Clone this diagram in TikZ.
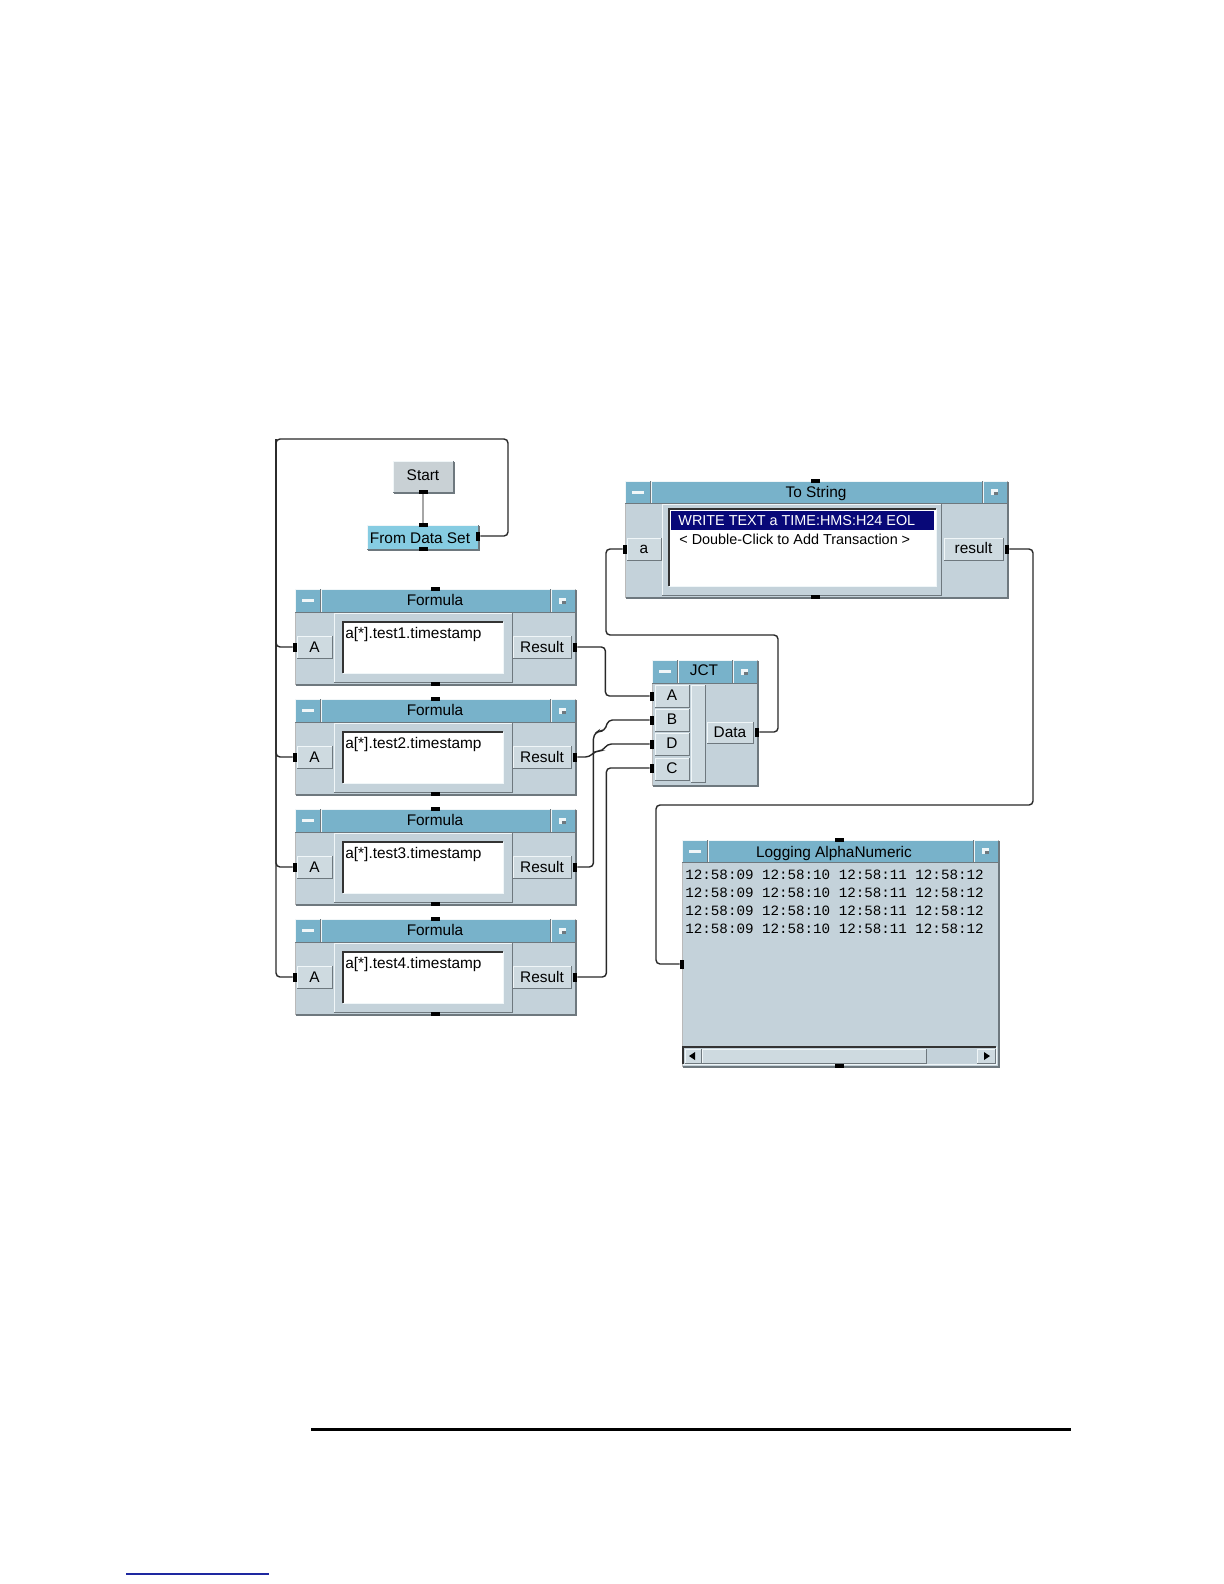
\documentclass[tikz,border=0pt]{standalone}
\usepackage{fontspec}
\setmainfont{Liberation Sans}
\setmonofont{Liberation Mono}
\definecolor{panel}{RGB}{196,210,218}
\definecolor{titlec}{RGB}{120,178,202}
\definecolor{btnc}{RGB}{206,218,224}
\definecolor{fdsc}{RGB}{134,204,226}
\definecolor{startc}{RGB}{201,209,213}
\definecolor{hlc}{RGB}{240,246,248}
\definecolor{shc}{RGB}{110,120,126}
\definecolor{wirec}{RGB}{40,40,40}
\definecolor{selc}{RGB}{8,8,120}
\definecolor{linkc}{RGB}{30,40,160}
\tikzset{
 wire/.style={draw=wirec, line width=0.7pt, rounded corners=2pt},
 pinv/.style={fill=black, inner sep=0pt, minimum width=4.5pt, minimum height=2pt, draw=none},
 pinh/.style={fill=black, inner sep=0pt, minimum width=2pt, minimum height=4.5pt, draw=none},
 lbl/.style={inner sep=0pt, anchor=base, font=\fontsize{7.7}{9}\selectfont, text=black},
 small/.style={inner sep=0pt, anchor=base west, font=\fontsize{7.2}{9}\selectfont, text=black},
 mono/.style={inner sep=0pt, anchor=base west, font=\ttfamily\fontsize{7.1}{8}\selectfont, text=black},
 hl/.style={draw=hlc, line width=0.5pt},
 sh/.style={draw=shc, line width=0.5pt},
}
\newcommand\raisedbx[5]{%
 \fill[#5] (#1,#2) rectangle (#3,#4);
 \draw[hl] (#1,#4) -- (#1,#2) -- (#3,#2);
 \draw[sh] (#3,#2) -- (#3,#4) -- (#1,#4);}
\newcommand\sunkbx[5]{%
 \fill[#5] (#1,#2) rectangle (#3,#4);
 \draw[draw=black!80, line width=0.7pt] (#1,#4) -- (#1,#2) -- (#3,#2);
 \draw[hl] (#3,#2) -- (#3,#4) -- (#1,#4);}
\newcommand\modframe[4]{%
 \fill[panel] (#1,#2) rectangle (#3,#4);
 \draw[draw=gray!55, line width=0.5pt] (#1,#2) rectangle (#3,#4);
 \draw[draw=shc, line width=1pt] ({#1+1},{#4+1}) -- ({#3+1},{#4+1}) -- ({#3+1},{#2+1});}
\newcommand\titlebar[4]{%
 \fill[titlec] (#1,#2) rectangle (#3,#4);
 \draw[hl] (#1,#4) -- (#1,#2) -- (#3,#2);
 \draw[sh] ({#1+25},#2) -- ({#1+25},#4);
 \draw[sh] ({#3-25},#2) -- ({#3-25},#4);
 \draw[hl] ({#1+26},#2) -- ({#1+26},#4);
 \draw[hl] ({#3-24},#2) -- ({#3-24},#4);
 \draw[sh] (#1,#4) -- (#3,#4);
 \fill[hlc] ({#1+7},{(#2+#4)/2-1.5}) rectangle ({#1+19},{(#2+#4)/2+1.5});
 \fill[hlc] ({#3-16},{(#2+#4)/2-3}) rectangle ({#3-9},{(#2+#4)/2+3});
 \fill[shc] ({#3-13},{(#2+#4)/2}) rectangle ({#3-9},{(#2+#4)/2+3});}
\begin{document}
\begin{tikzpicture}[x=0.5pt,y=-0.5pt]
\useasboundingbox (0,0) rectangle (1224,1584);
\fill[white] (0,0) rectangle (1224,1584);

% ---- Start and From Data Set
\raisedbx{393}{461}{453}{492}{startc}
\draw[draw=shc, line width=1pt] (394,493) -- (454,493) -- (454,462);
\node[lbl] (st_l) at (423,480) {Start};
\node[pinv] (st_b) at (423,492) {};
\raisedbx{367}{525}{478}{549}{fdsc}
\draw[draw=shc, line width=1pt] (368,550) -- (479,550) -- (479,526);
\node[lbl] (fds_l) at (420,543) {From Data Set};
\node[pinv] (fds_t) at (423,525) {};
\node[pinv] (fds_b) at (423,549) {};
\node[pinh] (fds_r) at (478,536) {};

% ---- Formulas
\foreach \i/\n in {0/1,1/2,2/3,3/4}{
 \pgfmathsetmacro\T{589+110*\i}
 \pgfmathsetmacro\B{\T+95}
 \pgfmathsetmacro\TB{\T+23}
 \modframe{295}{\T}{575}{\B}
 \titlebar{295}{\T}{575}{\TB}
 \node[lbl] (f\n_t) at (435,\T+16) {Formula};
 \raisedbx{334}{\T+24}{512}{\T+93}{panel}
 \sunkbx{343}{\T+33}{503}{\T+84}{white}
 \node[lbl, anchor=base west] (f\n_x) at (345,\T+49) {a[*].test\n.timestamp};
 \raisedbx{297}{\T+47}{332}{\T+69}{btnc}
 \node[lbl] (f\n_al) at (314.5,\T+63) {A};
 \raisedbx{513}{\T+47}{571}{\T+69}{btnc}
 \node[lbl] (f\n_rl) at (542,\T+63) {Result};
 \node[pinh] (f\n_a) at (295,\T+58) {};
 \node[pinh] (f\n_r) at (575,\T+58) {};
 \node[pinv] (f\n_top) at (435,\T) {};
 \node[pinv] (f\n_bot) at (435,\B) {};
}

% ---- To String
\modframe{625}{481}{1007}{597}
\titlebar{625}{481}{1007}{503}
\node[lbl] (ts_t) at (816,497) {To String};
\raisedbx{662}{504}{941}{595}{panel}
\sunkbx{669}{509}{936}{586}{white}
\fill[selc] (671,511) rectangle (934,530);
\node[small, text=white] (ts_x1) at (678,525) {WRITE TEXT a TIME:HMS:H24 EOL};
\node[small] (ts_x2) at (679,544) {< Double-Click to Add Transaction >};
\raisedbx{627}{538}{661}{560}{btnc}
\node[lbl] (ts_al) at (644,553) {a};
\raisedbx{944}{538}{1003}{560}{btnc}
\node[lbl] (ts_rl) at (973.5,553) {result};
\node[pinh] (ts_a) at (625,549) {};
\node[pinh] (ts_r) at (1007,549) {};
\node[pinv] (ts_top) at (815,481) {};
\node[pinv] (ts_bot) at (815,597) {};

% ---- JCT
\modframe{652}{660}{757}{785}
\titlebar{652}{660}{757}{683}
\node[lbl] (j_t) at (704,675) {JCT};
\raisedbx{655}{685}{689}{707}{btnc}
\raisedbx{655}{709}{689}{731}{btnc}
\raisedbx{655}{733}{689}{755}{btnc}
\raisedbx{655}{758}{689}{780}{btnc}
\node[lbl] (j_al) at (672,700) {A};
\node[lbl] (j_bl) at (672,724) {B};
\node[lbl] (j_dl) at (672,748) {D};
\node[lbl] (j_cl) at (672,773) {C};
\raisedbx{691}{685}{705}{782}{btnc}
\raisedbx{707}{722}{753}{743}{btnc}
\node[lbl] (j_ol) at (730,737) {Data};
\node[pinh] (j_a) at (652,696) {};
\node[pinh] (j_b) at (652,720) {};
\node[pinh] (j_d) at (652,744) {};
\node[pinh] (j_c) at (652,768) {};
\node[pinh] (j_o) at (757,732) {};

% ---- Logging AlphaNumeric
\modframe{682}{840}{998}{1066}
\titlebar{682}{840}{998}{862}
\node[lbl] (lg_t) at (834,857) {Logging AlphaNumeric};
\foreach \k/\yy in {1/879,2/897,3/915,4/933}{
 \node[mono] (lg_x\k) at (685,\yy) {12:58:09 12:58:10 12:58:11 12:58:12};
}
\sunkbx{683}{1047}{996}{1064}{panel}
\raisedbx{685}{1049}{701}{1063}{btnc}
\raisedbx{702}{1049}{926}{1063}{btnc}
\raisedbx{977}{1049}{995}{1063}{btnc}
\fill[black] (689,1056) -- (695,1052) -- (695,1060) -- cycle;
\fill[black] (990,1056) -- (984,1052) -- (984,1060) -- cycle;
\node[pinh] (lg_a) at (682,964) {};
\node[pinv] (lg_top) at (839,840) {};
\node[pinv] (lg_bot) at (839,1066) {};

% ---- connectors
\draw[draw=gray!70, line width=0.7pt] (st_b.south) -- (fds_t.north);
\coordinate (lR) at (508,439);
\coordinate (lL) at (276,439);
\draw[wire] (fds_r.east) -| (lR) -- (lL) |- (f4_a.west);
\foreach \n in {1,2,3}{\draw[wire] (lL) |- (f\n_a.west);}
\draw[wire] (f1_r.east) -- ++(28,0) |- (j_a.west);
\draw[wire] (f2_r.east) -- ++(12,0) -- ++(6,-6) -- ++(7,0) -- ++(5,-7) -- (j_d.west);
\draw[wire] (f3_r.east) -- ++(16,0) -- ++(0,-132) -- ++(5,-4) -- ++(6,0) -- ++(4,-11) -- (j_b.west);
\draw[wire] (f4_r.east) -- ++(29,0) |- (j_c.west);
\coordinate (dA) at (778,635);
\coordinate (dB) at (606,635);
\draw[wire] (j_o.east) -| (dA) -- (dB) |- (ts_a.west);
\coordinate (rA) at (1033,805);
\coordinate (rB) at (656,805);
\draw[wire] (ts_r.east) -| (rA) -- (rB) |- (lg_a.west);

% ---- page rules
\draw[black, line width=1.5pt] (311,1429) -- (1071,1429);
\draw[linkc, line width=0.75pt] (126,1574) -- (269,1574);
\end{tikzpicture}
\end{document}
